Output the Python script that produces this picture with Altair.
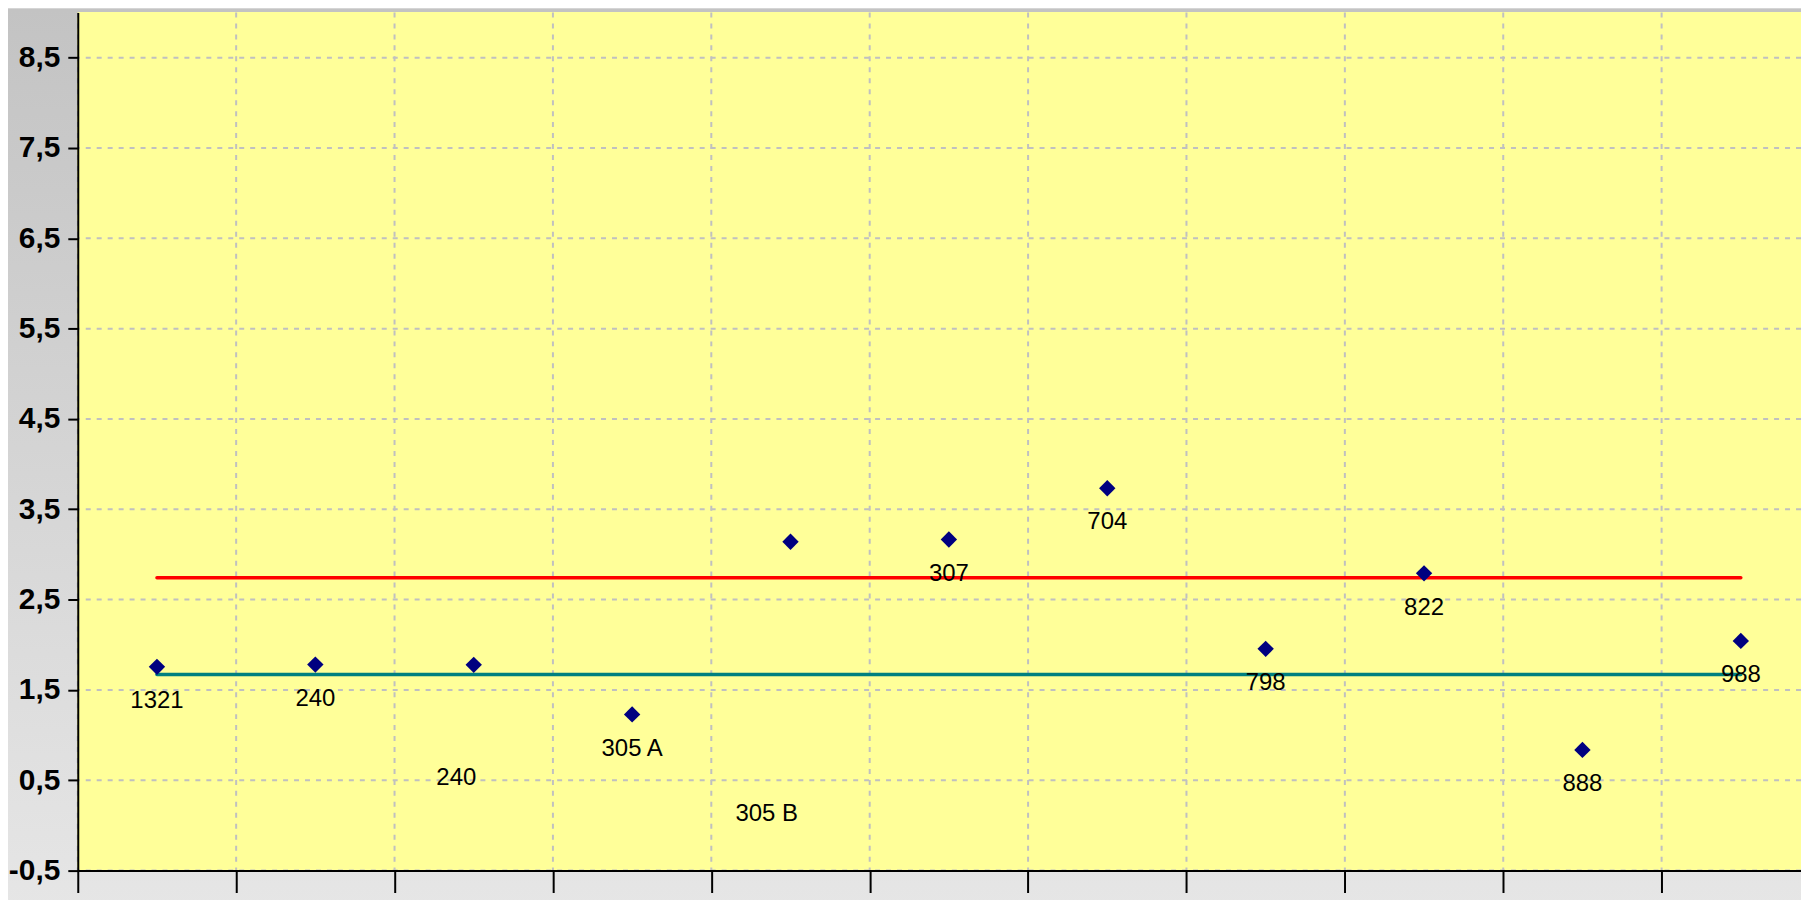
import altair as alt
import pandas as pd

# ---- data ----
point_x = [1, 2, 3, 4, 5, 6, 7, 8, 9, 10, 11]
point_y = [1.756, 1.781, 1.778, 1.229, 3.140, 3.166, 3.733, 1.955, 2.791, 0.836, 2.043]

label_text = ["1321", "240", "240", "305 A", "305 B", "307", "704", "798", "822", "888", "988"]
label_x = [1, 2, 2.89, 4, 4.85, 6, 7, 8, 9, 10, 11]
label_y = [1.38, 1.40, 0.52, 0.85, 0.125, 2.78, 3.36, 1.58, 2.41, 0.46, 1.67]

line_names = ["upper", "mean"]
line_values = [2.742, 1.671]
line_start = [1, 1]
line_end = [11, 11]
line_colors = ["#FF0000", "#008080"]

y_ticks = [-0.5, 0.5, 1.5, 2.5, 3.5, 4.5, 5.5, 6.5, 7.5, 8.5]
x_ticks = [0.5, 1.5, 2.5, 3.5, 4.5, 5.5, 6.5, 7.5, 8.5, 9.5, 10.5]
y_domain = [-0.5, 9.0]
x_domain = [0.5, 11.38]

W, H = 1729, 861

points = pd.DataFrame({"x": point_x, "y": point_y})
labels = pd.DataFrame({"x": label_x, "y": label_y, "t": label_text})
lines = pd.DataFrame({"name": line_names, "v": line_values, "a": line_start,
                      "b": line_end, "c": line_colors})
ygrid = pd.DataFrame({"v": y_ticks})
xgrid = pd.DataFrame({"v": x_ticks})

xs = alt.Scale(domain=x_domain, nice=False, zero=False)
ys = alt.Scale(domain=y_domain, nice=False, zero=False)

x_axis = alt.Axis(values=x_ticks, labels=False, title=None, grid=False,
                  domainColor="black", domainWidth=2, tickColor="black",
                  tickWidth=2, tickSize=22, zindex=2)
y_axis = alt.Axis(values=y_ticks, title=None, grid=False,
                  labelExpr="replace(toString(datum.value), '.', ',')",
                  labelFont="Liberation Sans", labelFontSize=30,
                  labelFontWeight="bold", labelColor="black", labelPadding=8,
                  domainColor="black", domainWidth=2, tickColor="black",
                  tickWidth=2, tickSize=10, zindex=2)

bg = alt.Chart(points).mark_rect(
    fill=alt.Gradient(gradient="linear",
                      stops=[alt.GradientStop(color="#C3C3C3", offset=0),
                             alt.GradientStop(color="#E6E6E6", offset=1)],
                      x1=0, x2=0, y1=0, y2=1)
).encode(x=alt.value(-70), x2=alt.value(W + 10), y=alt.value(-3), y2=alt.value(H + 40))

plot_bg = alt.Chart(points).mark_rect(fill="#FFFF99").encode(
    x=alt.value(0), x2=alt.value(W), y=alt.value(0), y2=alt.value(H))

hgrid = alt.Chart(ygrid).mark_rule(color="#C0C0C0", strokeWidth=2, strokeDash=[5, 6]).encode(
    y=alt.Y("v:Q", scale=ys, axis=y_axis))
vgrid = alt.Chart(xgrid).mark_rule(color="#C0C0C0", strokeWidth=2, strokeDash=[5, 6]).encode(
    x=alt.X("v:Q", scale=xs, axis=x_axis))

rules = alt.Chart(lines).mark_rule(strokeWidth=3.5, strokeCap="round").encode(
    x=alt.X("a:Q", scale=xs, axis=x_axis),
    x2="b:Q",
    y=alt.Y("v:Q", scale=ys, axis=y_axis),
    color=alt.Color("c:N", scale=None, legend=None),
)

pts = alt.Chart(points).mark_point(shape="diamond", filled=True, size=270,
                                   color="#000080", opacity=1).encode(
    x=alt.X("x:Q", scale=xs, axis=x_axis),
    y=alt.Y("y:Q", scale=ys, axis=y_axis),
)

txt = alt.Chart(labels).mark_text(font="Liberation Sans", fontSize=24,
                                  color="black", align="center",
                                  baseline="middle").encode(
    x=alt.X("x:Q", scale=xs, axis=x_axis),
    y=alt.Y("y:Q", scale=ys, axis=y_axis),
    text="t:N",
)

chart = alt.layer(bg, plot_bg, hgrid, vgrid, rules, pts, txt).properties(
    width=W, height=H,
    autosize=alt.AutoSizeParams(type="none"),
    padding={"left": 70, "top": 3, "right": 0, "bottom": 28},
    background="#D5D5D5",
).configure_view(stroke="transparent")

chart.save("out.html", embed_options={"renderer": "svg", "actions": False})
